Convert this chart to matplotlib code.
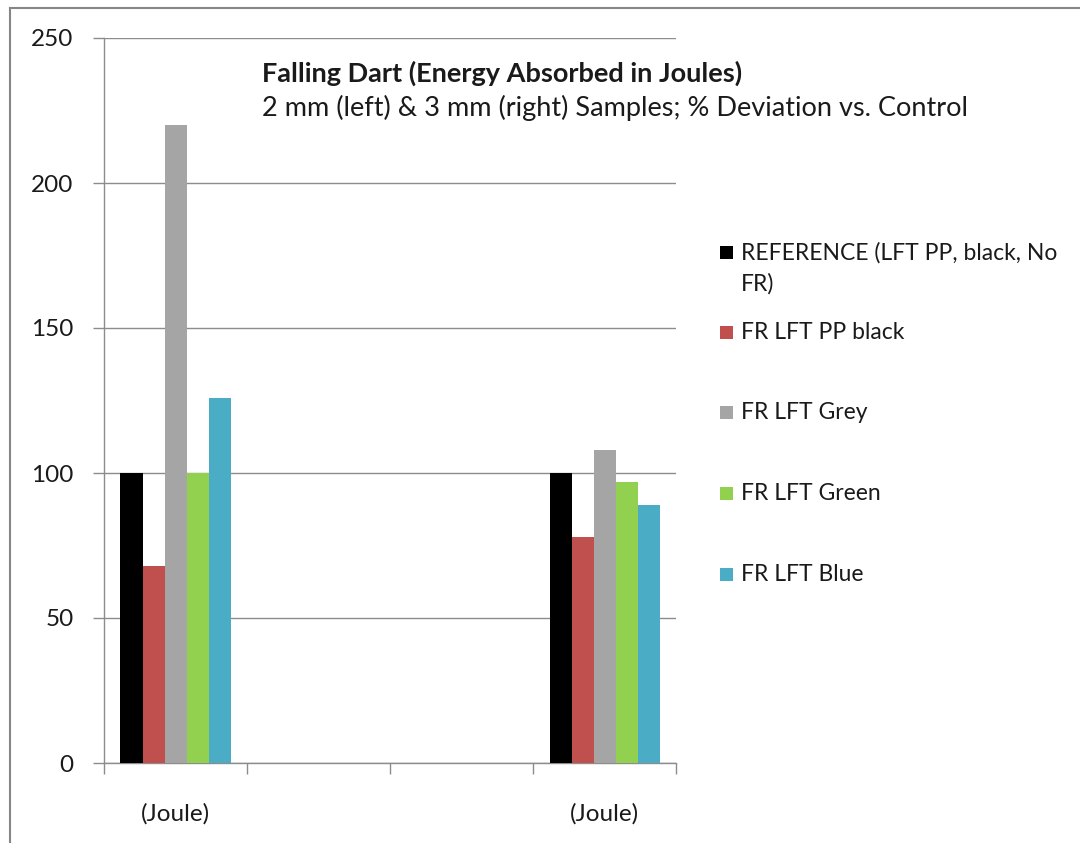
import numpy as np
import matplotlib
matplotlib.use("Agg")
from matplotlib import pyplot as plt
from matplotlib.patches import Rectangle
from matplotlib.lines import Line2D

# chart data
categories = ["(Joule)", "", "", "(Joule)"]
series_names = [
    "REFERENCE (LFT PP, black, No\nFR)",
    "FR LFT PP black",
    "FR LFT Grey",
    "FR LFT Green",
    "FR LFT Blue",
]
reference = [100, np.nan, np.nan, 100]
fr_pp_black = [68, np.nan, np.nan, 78]
fr_grey = [220, np.nan, np.nan, 108]
fr_green = [100, np.nan, np.nan, 97]
fr_blue = [126, np.nan, np.nan, 89]
y_ticks = [0, 50, 100, 150, 200, 250]

colors = ["#000000", "#C0504D", "#A5A5A5", "#92D050", "#4BACC6"]
W, H = 1080, 843
FONT = "Lato"
TEXT = "#1a1a1a"
GRID = "#8c8c8c"

plt.rcParams["font.family"] = [FONT, "DejaVu Sans"]

fig = plt.figure(figsize=(W / 100, H / 100), dpi=100)
ax = fig.add_axes([104 / W, 1 - 763 / H, 572 / W, 725 / H])

data = [reference, fr_pp_black, fr_grey, fr_green, fr_blue]
x = np.arange(len(categories))
bw = 1 / 6.5
for i, (vals, c) in enumerate(zip(data, colors)):
    ax.bar(x + (i - 2) * bw, vals, width=bw, color=c, linewidth=0, zorder=3)

ax.set_xlim(-0.5, len(categories) - 0.5)
ax.set_ylim(0, 250)
ax.set_yticks(y_ticks)
ax.set_yticklabels([str(t) for t in y_ticks], fontsize=17.5, color=TEXT)
ax.yaxis.grid(True, color=GRID, linewidth=1, zorder=0)
ax.tick_params(axis="y", length=8, width=1, color=GRID, pad=14)

ax.set_xticks(x)
ax.set_xticklabels(categories, fontsize=17.5, color=TEXT)
ax.set_xticks(np.arange(len(categories) + 1) - 0.5, minor=True)
ax.tick_params(axis="x", which="major", length=0, pad=29)
ax.tick_params(axis="x", which="minor", length=8, width=1, color=GRID)

for s in ["top", "right"]:
    ax.spines[s].set_visible(False)
for s in ["left", "bottom"]:
    ax.spines[s].set_color(GRID)
    ax.spines[s].set_linewidth(1)

# title inside plot area
fig.text(262 / W, 1 - 73 / H, "Falling Dart (Energy Absorbed in Joules)",
         fontsize=19.5, fontweight="bold", color=TEXT, va="center", ha="left")
fig.text(262 / W, 1 - 108 / H,
         "2 mm (left) & 3 mm (right) Samples; % Deviation vs. Control",
         fontsize=19.5, color=TEXT, va="center", ha="left")

# legend drawn manually to keep Excel-like spacing
legend_y = [252, 332, 412, 493, 574]
for name, c, yy in zip(series_names, colors, legend_y):
    fig.add_artist(Rectangle((720 / W, 1 - (yy + 6.5) / H), 13 / W, 13 / H,
                             transform=fig.transFigure, color=c, linewidth=0))
    fig.text(741 / W, 1 - (yy - 10) / H, name, fontsize=16.5, color=TEXT,
             va="top", ha="left", linespacing=1.55)

# outer chart frame
fig.add_artist(Line2D([10 / W, 10 / W], [0, 1 - 8 / H], transform=fig.transFigure,
                      color="#868686", linewidth=1.5))
fig.add_artist(Line2D([10 / W, 1], [1 - 8 / H, 1 - 8 / H], transform=fig.transFigure,
                      color="#868686", linewidth=1.5))

fig.savefig("out.png", dpi=100)
